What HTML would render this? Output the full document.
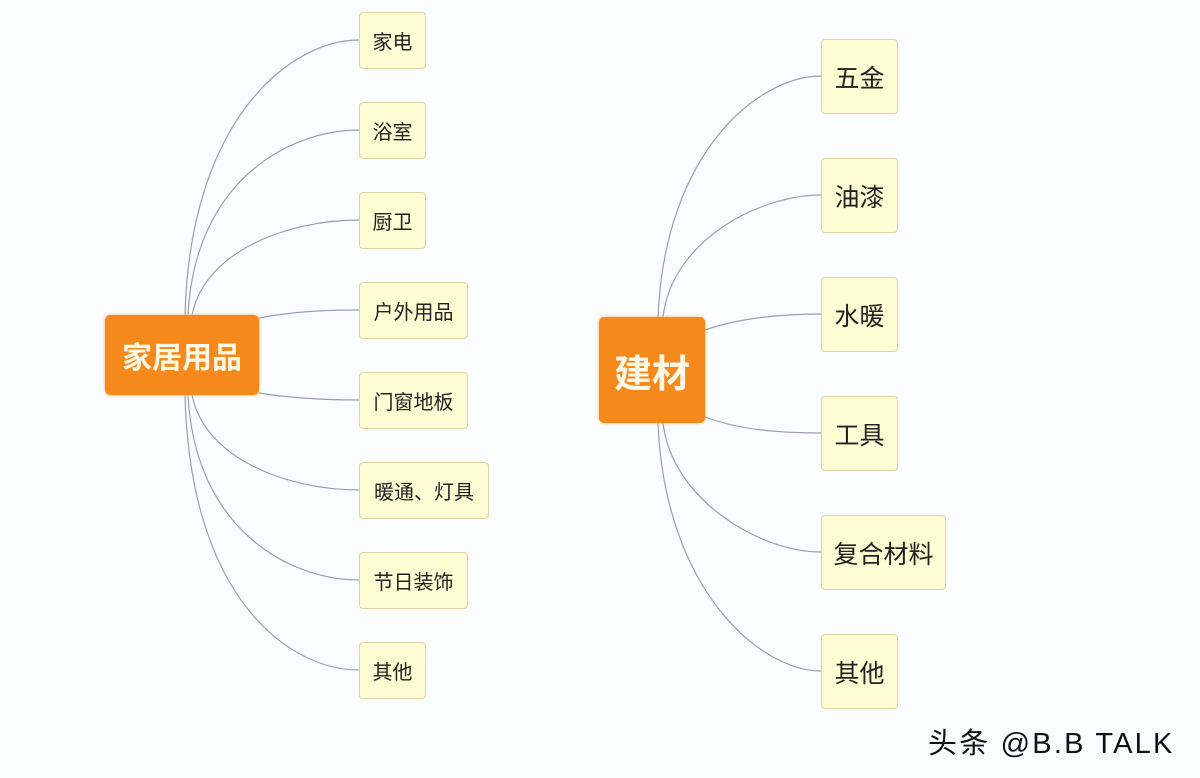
<!DOCTYPE html>
<html><head><meta charset="utf-8"><style>
body{margin:0;background:#fbfcfd;width:1200px;height:778px;overflow:hidden;font-family:"Liberation Sans","Noto Sans CJK SC",sans-serif}
svg{position:absolute;left:0;top:0}
.c{position:absolute;background:#fdfcd2;border:1px solid #d9d6a6;border-radius:4px;box-sizing:border-box;display:flex;align-items:center;justify-content:center;color:#222;font-family:"Noto Sans CJK SC",sans-serif}
.l{left:359px;height:57px;font-size:20px}
.r{left:821px;height:75px;font-size:25px}
.root{position:absolute;background:#f5891c;border-radius:5px;color:#fff8e6;display:flex;align-items:center;justify-content:center;font-family:"Noto Sans CJK SC",sans-serif;font-weight:bold;box-shadow:0 0 3px #f0b070}
</style></head><body>
<svg width="1200" height="778" fill="none" stroke="#9a9fae" stroke-width="1.2">
<path d="M185,315 C190,120 290,40 359,40"/>
<path d="M188,315 C195,180 290,130 359,130"/>
<path d="M192,315 C205,250 290,220 359,220"/>
<path d="M259,318 C290,312 320,310 359,310"/>
<path d="M259,393 C290,398 320,400 359,400"/>
<path d="M192,395 C205,460 290,490 359,490"/>
<path d="M188,395 C195,530 290,580 359,580"/>
<path d="M185,395 C190,600 290,670 359,670"/>
<path d="M658,317 C665,150 760,76 821,76"/>
<path d="M663,317 C672,240 760,195 821,195"/>
<path d="M705,330 C740,318 780,314 821,314"/>
<path d="M705,417 C740,430 780,433 821,433"/>
<path d="M663,423 C672,500 760,552 821,552"/>
<path d="M658,423 C665,590 760,671 821,671"/>
</svg>
<div class="root" style="left:105px;top:315px;width:154px;height:80px;font-size:30px">家居用品</div>
<div class="root" style="left:599px;top:317px;width:106px;height:106px;font-size:38px">建材</div>
<div class="c l" style="top:12px;width:67px">家电</div>
<div class="c l" style="top:102px;width:67px">浴室</div>
<div class="c l" style="top:192px;width:67px">厨卫</div>
<div class="c l" style="top:282px;width:109px">户外用品</div>
<div class="c l" style="top:372px;width:109px">门窗地板</div>
<div class="c l" style="top:462px;width:130px">暖通、灯具</div>
<div class="c l" style="top:552px;width:109px">节日装饰</div>
<div class="c l" style="top:642px;width:67px">其他</div>
<div class="c r" style="top:39px;width:77px">五金</div>
<div class="c r" style="top:158px;width:77px">油漆</div>
<div class="c r" style="top:277px;width:77px">水暖</div>
<div class="c r" style="top:396px;width:77px">工具</div>
<div class="c r" style="top:515px;width:125px">复合材料</div>
<div class="c r" style="top:634px;width:77px">其他</div>
<div style="position:absolute;left:928px;top:720px;font-size:29px;color:#111;white-space:nowrap;letter-spacing:2.2px">头条 @B.B TALK</div>
</body></html>
